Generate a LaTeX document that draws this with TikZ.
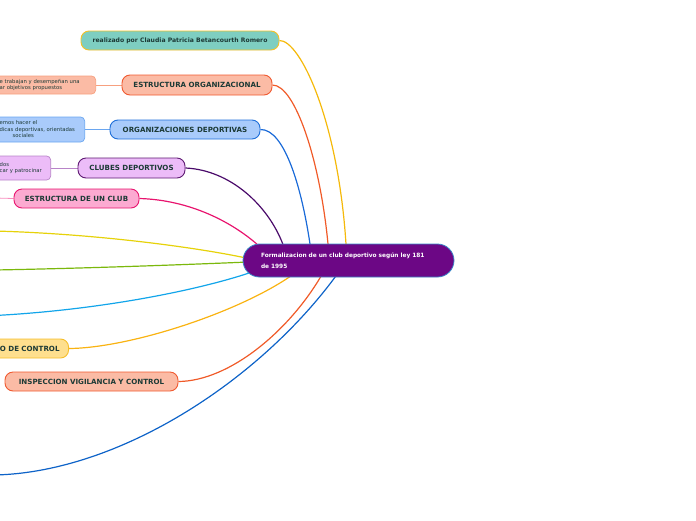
\documentclass[tikz,border=0pt]{standalone}
\usepackage{fontspec}
\setmainfont{DejaVu Sans}
\usetikzlibrary{calc}
\pgfdeclarelayer{background}
\pgfsetlayers{background,main}
\definecolor{txt}{HTML}{1C3A36}
\definecolor{tealf}{HTML}{7ECEC1}
\definecolor{yelb}{HTML}{F5C026}
\definecolor{salf}{HTML}{FBBBA5}
\definecolor{orab}{HTML}{F05A30}
\definecolor{bluf}{HTML}{A9CBFB}
\definecolor{blub}{HTML}{1F6FD9}
\definecolor{lavf}{HTML}{ECBCF8}
\definecolor{purb}{HTML}{5E1A72}
\definecolor{pinf}{HTML}{FCAAD1}
\definecolor{pinb}{HTML}{E8156F}
\definecolor{ylwf}{HTML}{FEDF8E}
\definecolor{ylwb}{HTML}{F6BE2A}
\definecolor{cenf}{HTML}{6C0785}
\definecolor{cenb}{HTML}{3A87C8}
\definecolor{cYel}{HTML}{F5B90A}
\definecolor{cOra}{HTML}{F05A28}
\definecolor{cBlu}{HTML}{1A6AD8}
\definecolor{cPur}{HTML}{4A0A6A}
\definecolor{cPin}{HTML}{E8146E}
\definecolor{cLem}{HTML}{E6D20A}
\definecolor{cGrn}{HTML}{7BB80C}
\definecolor{cCya}{HTML}{12A5EA}
\definecolor{cYor}{HTML}{F9B312}
\definecolor{cBlu2}{HTML}{0E63C8}
\definecolor{nSalb}{HTML}{F7A07F}
\definecolor{nBlub}{HTML}{6AA6F0}
\definecolor{nLavb}{HTML}{B884C8}
\begin{document}
\begin{tikzpicture}[x=1pt,y=-1pt,
  topic/.style={draw, line width=0.9pt, rounded corners=8pt, inner sep=0pt,
    text=txt, font=\bfseries\fontsize{7.1}{8}\selectfont},
  note/.style={draw, line width=0.7pt, rounded corners=4pt, inner xsep=4pt, inner ysep=2pt,
    text=txt, align=left, anchor=east, font=\fontsize{5.3}{6.5}\selectfont},
  conn/.style={line width=1.2pt},
  thin conn/.style={line width=0.8pt}]
\useasboundingbox (0,0) rectangle (696,520);

% central node
\node[draw=cenb, fill=cenf, line width=0.8pt, rounded corners=16.5pt,
  minimum width=211pt, minimum height=33pt, inner sep=0pt,
  text width=175pt, align=left, text=white,
  font=\bfseries\fontsize{5.85}{11}\selectfont] (c) at (348.5,260.5)
  {Formalizacion de un club deportivo según ley 181\\de 1995};

% topics
\node[topic, fill=tealf, draw=yelb, minimum width=198pt, minimum height=19pt,
  font=\bfseries\fontsize{6.1}{7}\selectfont] (real) at (180,40.5)
  {realizado por Claudia Patricia Betancourth Romero};
\node[topic, fill=salf, draw=orab, minimum width=150pt, minimum height=20pt] (eo) at (197,85)
  {ESTRUCTURA ORGANIZACIONAL};
\node[topic, fill=bluf, draw=blub, minimum width=150pt, minimum height=19pt] (od) at (185,129.5)
  {ORGANIZACIONES DEPORTIVAS};
\node[topic, fill=lavf, draw=purb, minimum width=107pt, minimum height=20pt] (cd) at (131.5,168)
  {CLUBES DEPORTIVOS};
\node[topic, fill=pinf, draw=pinb, minimum width=125pt, minimum height=19pt] (ec) at (76.5,198.5)
  {ESTRUCTURA DE UN CLUB};
\node[topic, fill=ylwf, draw=ylwb, minimum height=19pt, text width=80pt, align=right,
  inner xsep=9pt, anchor=east] (oc) at (69,348.5)
  {O DE CONTROL};
\node[topic, fill=salf, draw=orab, minimum width=173pt, minimum height=19pt] (ivc) at (91.5,381.5)
  {INSPECCION VIGILANCIA Y CONTROL};

% notes
\node[note, fill=salf, draw=nSalb, text width=92pt, minimum height=18pt] (n1) at (96,85)
  {e trabajan y desempeñan una\\ar objetivos propuestos};
\node[note, fill=bluf, draw=nBlub, text width=81pt, minimum height=25pt] (n2) at (85,129.5)
  {emos hacer el\\dicas deportivas, orientadas\\\hspace*{13pt}sociales};
\node[note, fill=lavf, draw=nLavb, text width=47pt, minimum height=24pt] (n3) at (51,168)
  {dos\\car y patrocinar};

% free ends
\coordinate (lp) at (-5,198);
\coordinate (l1) at (-5,231);
\coordinate (l2) at (-5,270);
\coordinate (l3) at (-5,315.5);
\coordinate (l4) at (-5,475);

\begin{pgfonlayer}{background}
\draw[conn, cYel] (real.east) .. controls (300,40) and (338,120) .. ($(c.center)+(-2.5,-16.5)$);
\draw[conn, cOra] (eo.east) .. controls (295,85) and (320,160) .. ($(c.center)+(-20.5,-16.5)$);
\draw[conn, cBlu] (od.east) .. controls (285,129) and (302,190) .. ($(c.center)+(-38.5,-16.5)$);
\draw[conn, cPur] (cd.east) .. controls (230,170) and (268,205) .. ($(c.center)+(-65.5,-16)$);
\draw[conn, cPin] (ec.east) .. controls (190,200) and (232,222) .. ($(c.center)+(-90,-15)$);
\draw[conn, cLem] (l1) .. controls (100,234) and (200,248) .. ($(c.center)+(-100,-2)$);
\draw[conn, cGrn] (l2) .. controls (100,268) and (200,264) .. ($(c.center)+(-100,1.5)$);
\draw[conn, cCya] (l3) .. controls (100,310) and (200,290) .. ($(c.center)+(-95,11)$);
\draw[conn, cYor] (oc.east) .. controls (130,348) and (240,312) .. ($(c.center)+(-55.5,14)$);
\draw[conn, cOra] (ivc.east) .. controls (230,381) and (290,330) .. ($(c.center)+(-26.5,14)$);
\draw[conn, cBlu2] (l4) .. controls (120,472) and (260,380) .. ($(c.center)+(-11.5,14)$);
\draw[thin conn, nSalb] (n1.east) -- (eo.west);
\draw[thin conn, nBlub] (n2.east) -- (od.west);
\draw[thin conn, nLavb] (n3.east) -- (cd.west);
\draw[thin conn, pinf!80!pinb] (lp) -- (ec.west);
\end{pgfonlayer}
\end{tikzpicture}
\end{document}
